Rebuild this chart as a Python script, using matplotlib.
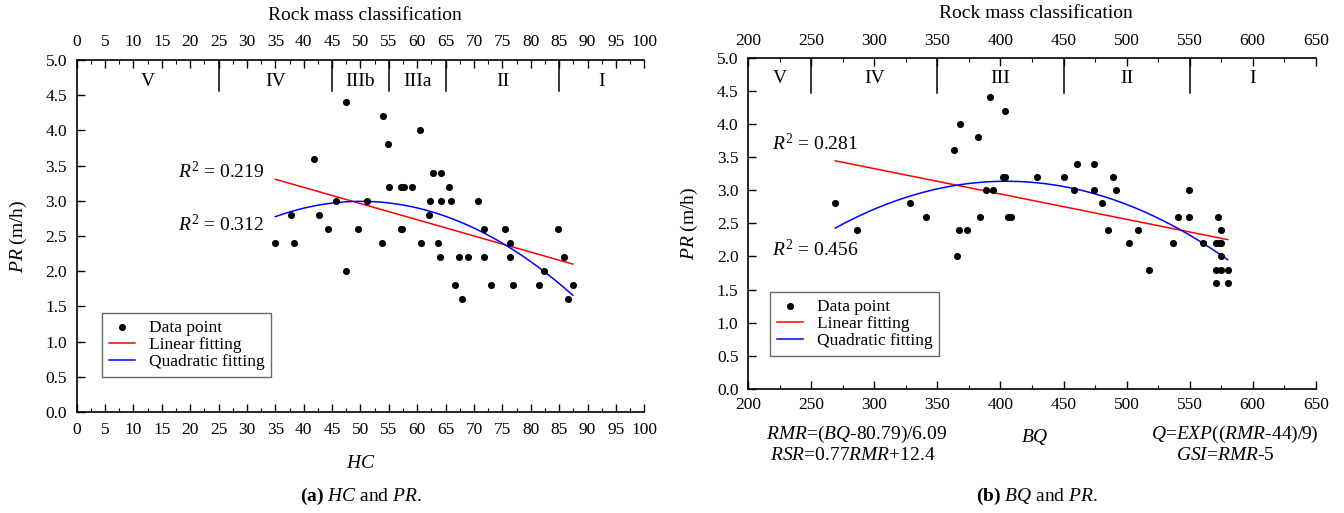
import numpy as np
import matplotlib
matplotlib.use("Agg")
import matplotlib.pyplot as plt
from matplotlib.ticker import MultipleLocator, FormatStrFormatter

plt.rcParams['font.family'] = ['Liberation Serif', 'DejaVu Serif']
plt.rcParams['mathtext.fontset'] = 'custom'
plt.rcParams['mathtext.rm'] = 'Liberation Serif'
plt.rcParams['mathtext.it'] = 'Liberation Serif:italic'
plt.rcParams['mathtext.bf'] = 'Liberation Serif:bold'

# ---------------- data ----------------
hc = [35.0, 37.7, 38.2, 41.8, 42.7, 44.3, 45.6, 47.5, 47.5, 49.5, 51.2, 53.7, 54.0,
      54.8, 55.0, 57.1, 57.7, 59.0, 57.1, 57.3, 60.5, 60.6, 62.1, 62.3, 62.7, 63.6,
      64.0, 64.1, 64.1, 65.6, 66.0, 66.6, 67.4, 67.8, 69.0, 70.7, 71.7, 71.8, 73.0,
      75.4, 76.4, 76.4, 76.8, 81.4, 82.4, 84.8, 85.8, 86.6, 87.4]
pr_hc = [2.4, 2.8, 2.4, 3.6, 2.8, 2.6, 3.0, 4.4, 2.0, 2.6, 3.0, 2.4, 4.2,
         3.8, 3.2, 3.2, 3.2, 3.2, 2.6, 2.6, 4.0, 2.4, 2.8, 3.0, 3.4, 2.4,
         2.2, 3.4, 3.0, 3.2, 3.0, 1.8, 2.2, 1.6, 2.2, 3.0, 2.2, 2.6, 1.8,
         2.6, 2.4, 2.2, 1.8, 1.8, 2.0, 2.6, 2.2, 1.6, 1.8]

bq = [269.0, 286.6, 328.5, 341.0, 363.2, 365.6, 367.2, 368.2, 373.3, 382.0, 383.8,
      388.6, 391.3, 393.9, 402.3, 403.9, 403.9, 405.8, 408.4, 429.3, 450.2, 458.4,
      461.0, 474.2, 474.5, 480.3, 485.6, 489.3, 491.7, 502.2, 509.4, 517.6, 536.6,
      541.1, 549.3, 549.8, 560.4, 570.7, 570.7, 571.0, 572.5, 573.1, 574.7, 574.7,
      574.9, 575.2, 580.2, 580.2]
pr_bq = [2.8, 2.4, 2.8, 2.6, 3.6, 2.0, 2.4, 4.0, 2.4, 3.8, 2.6,
         3.0, 4.4, 3.0, 3.2, 3.2, 4.2, 2.6, 2.6, 3.2, 3.2, 3.0,
         3.4, 3.4, 3.0, 2.8, 2.4, 3.2, 3.0, 2.2, 2.4, 1.8, 2.2,
         2.6, 2.6, 3.0, 2.2, 2.2, 1.8, 1.6, 2.6, 2.2, 2.4, 2.0,
         1.8, 2.2, 1.8, 1.6]

hc_classes = ['V', 'IV', 'IIIb', 'IIIa', 'II', 'I']
hc_bounds = [0, 25, 45, 55, 65, 85, 100]
bq_classes = ['V', 'IV', 'III', 'II', 'I']
bq_bounds = [200, 250, 350, 450, 550, 650]

r2_hc = ['0.219', '0.312']
r2_bq = ['0.281', '0.456']

W, H = 1344, 513
fig = plt.figure(figsize=(W / 100, H / 100), dpi=100)

FS_TICK = 12.5
FS_LAB = 14


def style_axis(ax, xlim, xmaj, xmin_, xpad):
    ax.set_xlim(*xlim)
    ax.set_ylim(0, 5)
    ax.xaxis.set_major_locator(MultipleLocator(xmaj))
    ax.xaxis.set_minor_locator(MultipleLocator(xmin_))
    ax.yaxis.set_major_locator(MultipleLocator(0.5))
    ax.yaxis.set_major_formatter(FormatStrFormatter('%.1f'))
    ax.spines['right'].set_visible(False)
    for s in ['left', 'bottom', 'top']:
        ax.spines[s].set_linewidth(1.2)
    ax.tick_params(axis='x', which='both', direction='in', top=True, bottom=True,
                   labeltop=True, labelbottom=True, labelsize=FS_TICK, pad=xpad)
    ax.tick_params(axis='x', which='major', length=6, width=1)
    ax.tick_params(axis='x', which='minor', length=3, width=0.8)
    ax.tick_params(axis='y', which='major', direction='in', length=6, width=1,
                   labelsize=FS_TICK, right=False, pad=7)
    ax.set_ylabel(r'$\mathit{PR}$ (m/h)', fontsize=FS_LAB, va='center')
    ax.yaxis.set_label_coords(-0.103, 0.5)


def draw_classes(ax, names, bounds, ytop_div):
    for b in bounds[1:-1]:
        ax.plot([b, b], [ytop_div, 5], color='black', lw=1.1)
    for i, n in enumerate(names):
        ax.text((bounds[i] + bounds[i + 1]) / 2, 4.69, n, ha='center', va='center',
                fontsize=FS_LAB)


def draw_data(ax, x, y):
    x = np.asarray(x); y = np.asarray(y)
    ax.scatter(x, y, s=26, color='black', zorder=3, label='Data point', linewidths=0)
    xs = np.linspace(x.min(), x.max(), 200)
    p1 = np.polyfit(x, y, 1)
    p2 = np.polyfit(x, y, 2)
    ax.plot(xs, np.polyval(p1, xs), color='red', lw=1.1, label='Linear fitting')
    ax.plot(xs, np.polyval(p2, xs), color='blue', lw=1.1, label='Quadratic fitting')


def add_legend(ax, anchor):
    leg = ax.legend(loc='lower left', bbox_to_anchor=anchor, fontsize=12.5,
                    frameon=True, fancybox=False, edgecolor='#444444', borderaxespad=0,
                    handlelength=1.5, handletextpad=0.8, labelspacing=0.05,
                    borderpad=0.4, scatterpoints=1)
    leg.get_frame().set_linewidth(1.0)
    return leg


# ---------------- panel (a) ----------------
ax1 = fig.add_axes([76.7 / W, (H - 412) / H, (644.3 - 76.7) / W, 352 / H])
style_axis(ax1, (0, 100), 5, 2.5, 7)
draw_classes(ax1, hc_classes, hc_bounds, 4.56)
draw_data(ax1, hc, pr_hc)
ax1.set_xlabel(r'$\mathit{HC}$', fontsize=FS_LAB)
ax1.xaxis.set_label_coords(0.5, (412 - 463) / 352)
ax1.xaxis.label.set_va('center')
ax1.text(33, 3.41, r'$\mathit{R}^2$ = ' + r2_hc[0], ha='right', va='center', fontsize=FS_LAB)
ax1.text(33, 2.66, r'$\mathit{R}^2$ = ' + r2_hc[1], ha='right', va='center', fontsize=FS_LAB)
add_legend(ax1, (0.044, 0.10))

# ---------------- panel (b) ----------------
ax2 = fig.add_axes([748.3 / W, (H - 389) / H, (1315.7 - 748.3) / W, 331.3 / H])
style_axis(ax2, (200, 650), 50, 25, 6)
draw_classes(ax2, bq_classes, bq_bounds, 4.46)
draw_data(ax2, bq, pr_bq)
ax2.text(218.6, 3.71, r'$\mathit{R}^2$ = ' + r2_bq[0], ha='left', va='center', fontsize=FS_LAB)
ax2.text(218.6, 2.11, r'$\mathit{R}^2$ = ' + r2_bq[1], ha='left', va='center', fontsize=FS_LAB)
add_legend(ax2, (0.038, 0.10))

# titles
fig.text(365 / W, 1 - 16 / H, 'Rock mass classification', ha='center', va='center',
         fontsize=FS_LAB)
fig.text(1036 / W, 1 - 14 / H, 'Rock mass classification', ha='center', va='center',
         fontsize=FS_LAB)

# text below panel (b)
fig.text(857 / W, 1 - 434 / H, r'$\mathit{RMR}$=($\mathit{BQ}$-80.79)/6.09',
         ha='center', va='center', fontsize=FS_LAB)
fig.text(853 / W, 1 - 456 / H, r'$\mathit{RSR}$=0.77$\mathit{RMR}$+12.4',
         ha='center', va='center', fontsize=FS_LAB)
fig.text(1035 / W, 1 - 437 / H, r'$\mathit{BQ}$', ha='center', va='center', fontsize=FS_LAB)
fig.text(1235 / W, 1 - 434 / H, r'$\mathit{Q}$=$\mathit{EXP}$(($\mathit{RMR}$-44)/9)',
         ha='center', va='center', fontsize=FS_LAB)
fig.text(1225 / W, 1 - 456 / H, r'$\mathit{GSI}$=$\mathit{RMR}$-5',
         ha='center', va='center', fontsize=FS_LAB)

# captions
fig.text(361 / W, 1 - 496 / H, r'$\mathbf{(a)}$ $\mathit{HC}$ and $\mathit{PR}$.',
         ha='center', va='center', fontsize=FS_LAB)
fig.text(1037 / W, 1 - 496 / H, r'$\mathbf{(b)}$ $\mathit{BQ}$ and $\mathit{PR}$.',
         ha='center', va='center', fontsize=FS_LAB)

fig.savefig('out.png', dpi=100)
